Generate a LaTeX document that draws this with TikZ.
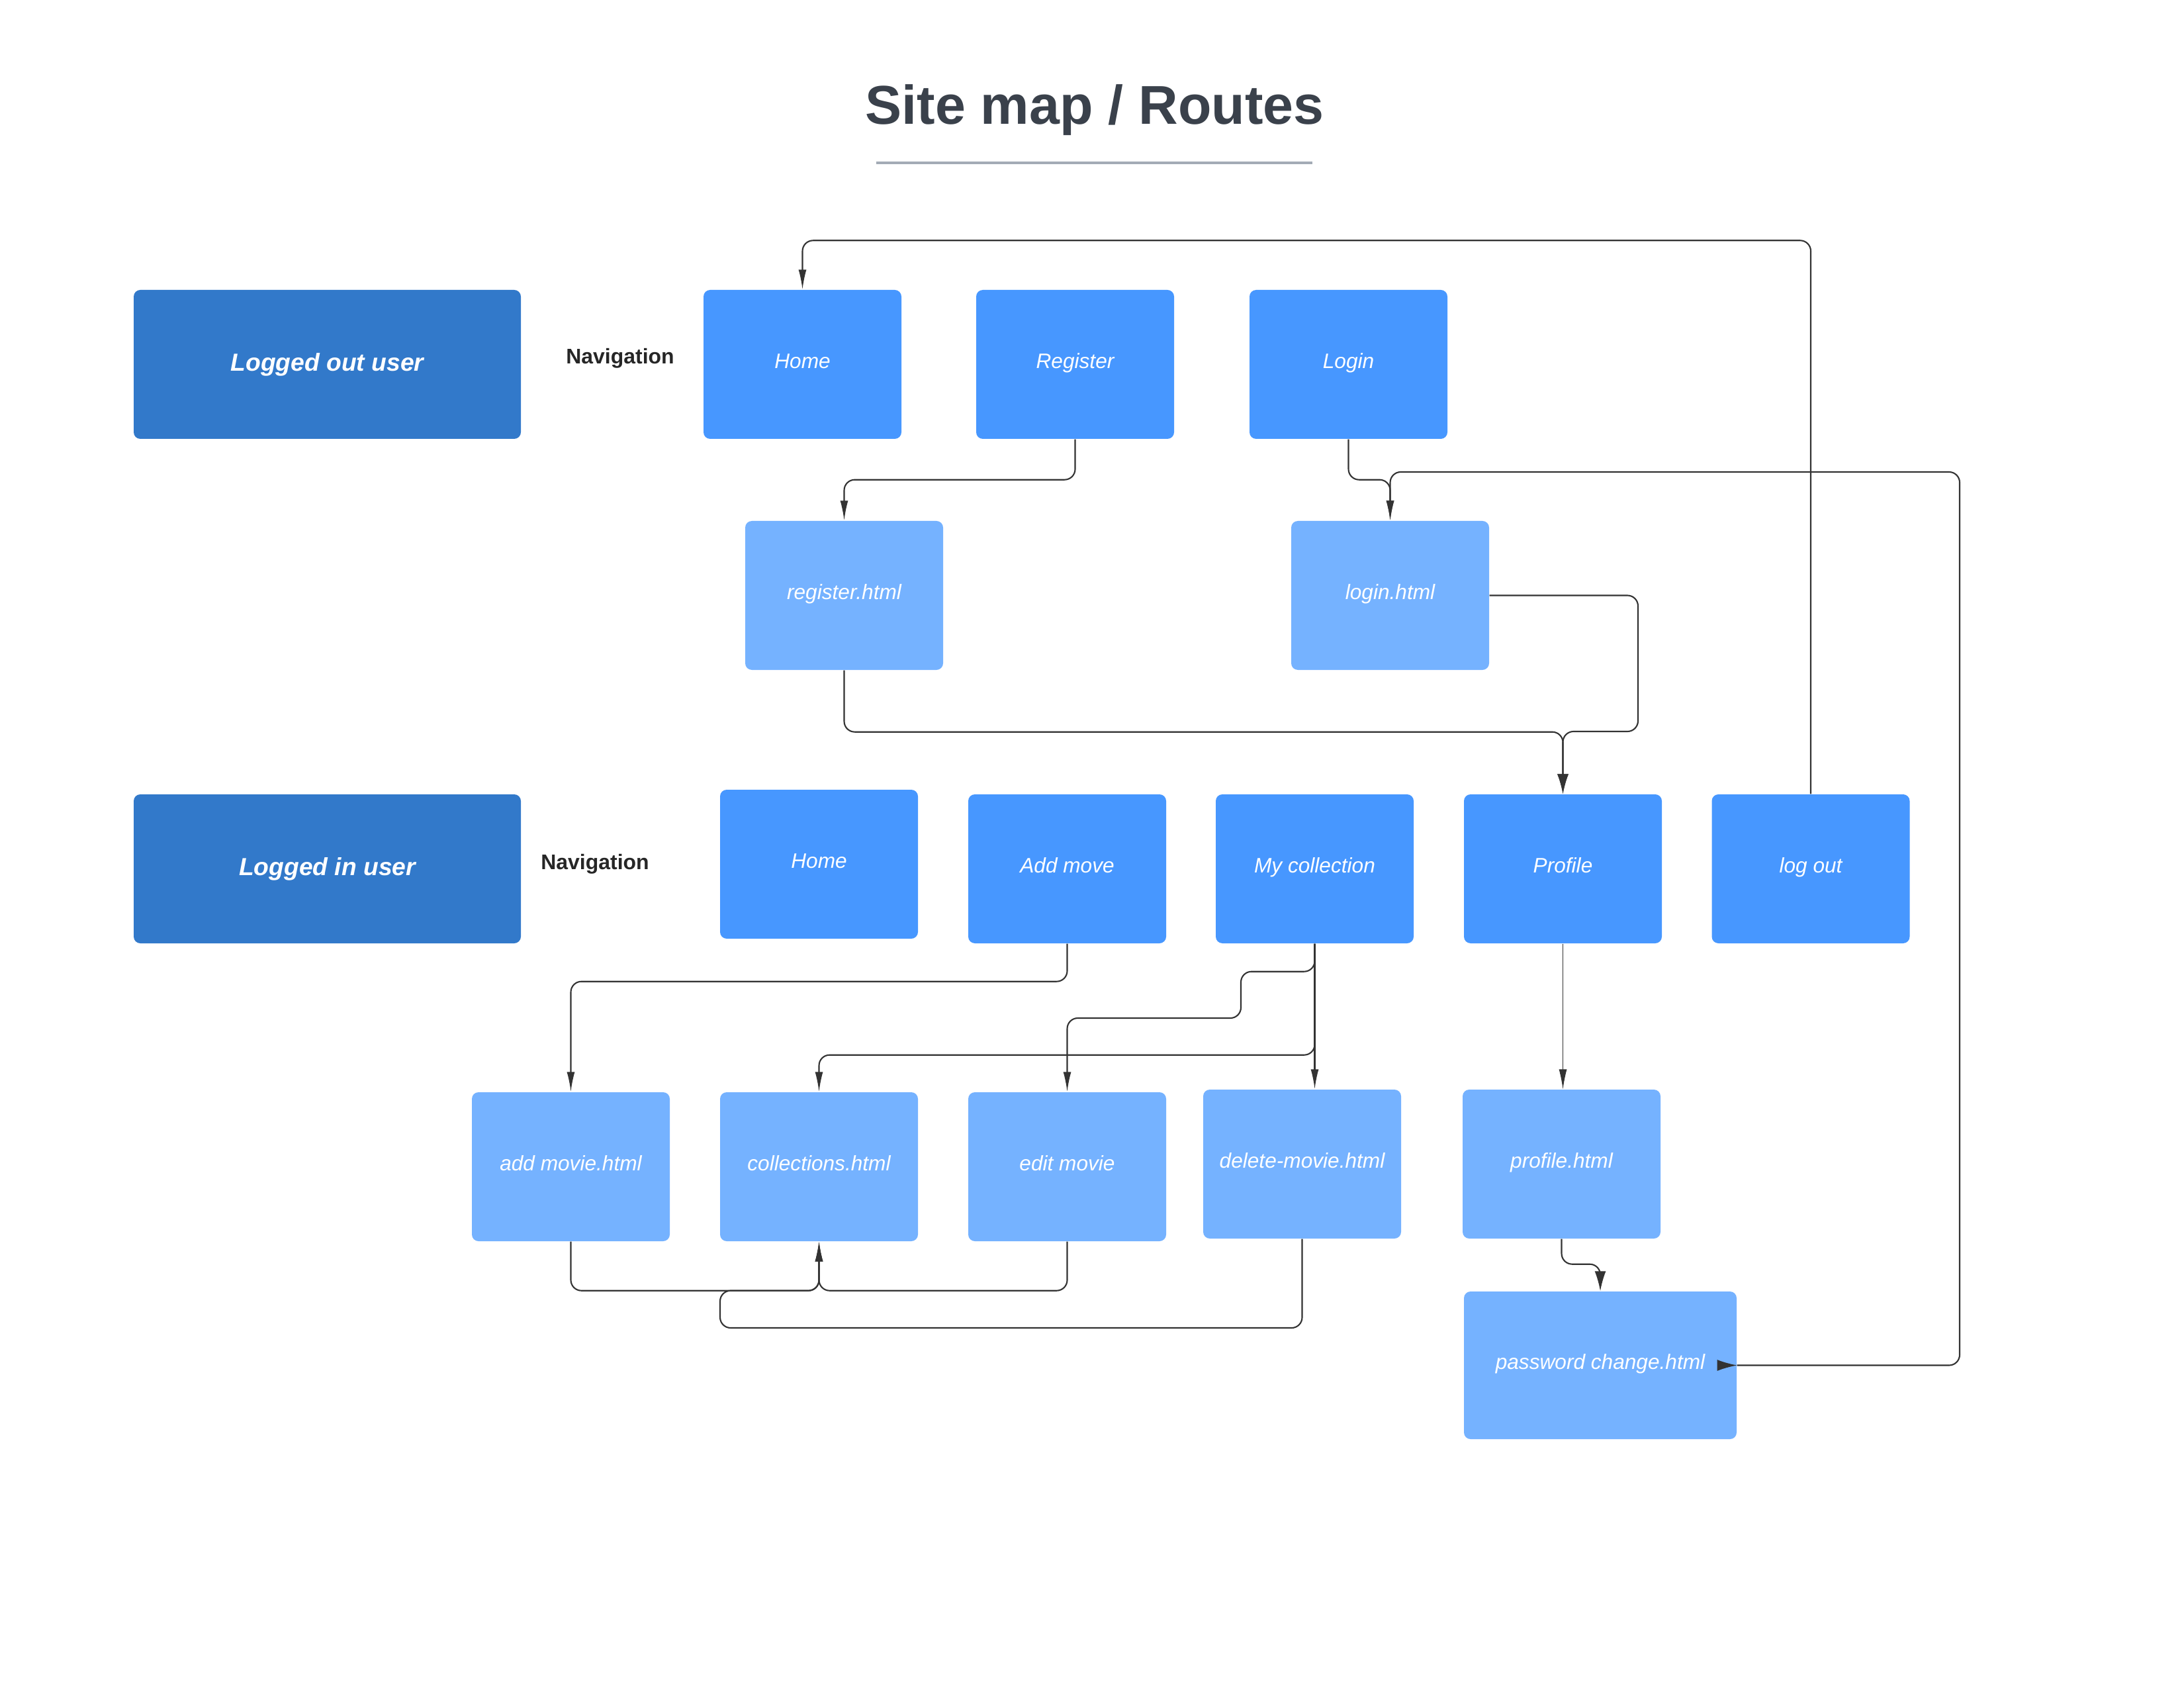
\documentclass[tikz,border=0pt]{standalone}
\usepackage{fontspec}
\setmainfont{Liberation Sans}
\usepackage{xcolor}
\usepackage{tikz}
\usetikzlibrary{arrows.meta}
\definecolor{routedark}{RGB}{50,121,202}
\definecolor{routemid}{RGB}{71,151,255}
\definecolor{routelight}{RGB}{117,178,255}
\definecolor{routetitle}{RGB}{58,65,75}
\definecolor{routerule}{RGB}{163,171,182}
\definecolor{routeline}{RGB}{51,51,51}

\tikzset{
  userbox/.style={fill=routedark, rounded corners=0.1cm, minimum width=5.85cm, minimum height=2.25cm, text=white, text height=0.75em, text depth=0.2em, font=\fontsize{10.6}{12}\selectfont\bfseries\itshape},
  navbox/.style={fill=routemid, rounded corners=0.1cm, minimum width=2.99cm, minimum height=2.25cm, text=white, text height=0.8em, text depth=0.47em, font=\fontsize{9}{11}\selectfont\itshape},
  pagebox/.style={navbox, fill=routelight},
  navlabel/.style={text=black!85, font=\fontsize{9.1}{11}\selectfont\bfseries},
  conn/.style={draw=routeline, line width=0.6pt, rounded corners=0.16cm, -{Latex[length=0.3cm,width=0.12cm]}},
  wideconn/.style={conn, -{Latex[length=0.3cm,width=0.17cm]}}
}

\begin{document}
\begin{tikzpicture}
\useasboundingbox (0,0) rectangle (33,-25.5);

% Title
\node[text=routetitle, font=\fontsize{23.5}{28}\selectfont\bfseries] (title) at (16.54,-1.66) {Site map / Routes};
\draw[routerule, line width=0.9pt] (13.24,-2.46) -- (19.83,-2.46);

% Logged out user
\node[userbox] (loggedout) at (4.945,-5.505) {Logged out user};
\node[navlabel] (navout) at (9.37,-5.41) {Navigation};
\node[navbox] (homeout) at (12.125,-5.505) {Home};
\node[navbox] (register) at (16.245,-5.505) {Register};
\node[navbox] (login) at (20.375,-5.505) {Login};
\node[pagebox] (registerhtml) at (12.755,-8.995) {register.html};
\node[pagebox] (loginhtml) at (21.005,-8.995) {login.html};

% Logged in user
\node[userbox] (loggedin) at (4.945,-13.125) {Logged in user};
\node[navlabel] (navin) at (8.99,-13.05) {Navigation};
\node[navbox] (homein) at (12.375,-13.055) {Home};
\node[navbox] (addmove) at (16.125,-13.125) {Add move};
\node[navbox] (mycollection) at (19.865,-13.125) {My collection};
\node[navbox] (profile) at (23.615,-13.125) {Profile};
\node[navbox] (logout) at (27.36,-13.125) {log out};

% Pages
\node[pagebox] (addmoviehtml) at (8.625,-17.625) {add movie.html};
\node[pagebox] (collectionshtml) at (12.375,-17.625) {collections.html};
\node[pagebox] (editmovie) at (16.125,-17.625) {edit movie};
\node[pagebox] (deletehtml) at (19.675,-17.585) {delete-movie.html};
\node[pagebox] (profilehtml) at (23.595,-17.585) {profile.html};
\node[pagebox, minimum width=4.12cm, minimum height=2.23cm] (passwordhtml) at (24.18,-20.625) {password change.html};

% Routes
\draw[conn] (logout.north) |- ([yshift=0.74cm]homeout.north) -- (homeout.north);
\draw[conn] (register.south) -- ++(0,-0.61) -| (registerhtml.north);
\draw[conn] (login.south) -- ++(0,-0.61) -| (loginhtml.north);
\draw[conn] (passwordhtml.east) -| (29.61,-7.13) -| (loginhtml.north);
\draw[wideconn, rounded corners=0] ([xshift=-0.22cm]passwordhtml.east) -- (passwordhtml.east);
\draw[wideconn] (registerhtml.south) -- ++(0,-0.93) -| (profile.north);
\draw[wideconn] (loginhtml.east) -| (24.75,-11.05) -| (profile.north);
\draw[conn] (addmove.south) -- ++(0,-0.57) -| (addmoviehtml.north);
\draw[conn] (mycollection.south) -- ++(0,-0.42) -| (18.75,-15.38) -| (editmovie.north);
\draw[conn] (mycollection.south) -- ++(0,-1.68) -| (collectionshtml.north);
\draw[conn] (mycollection.south) -- (mycollection.south |- deletehtml.north);
\draw[conn, line width=0.3pt] (profile.south) -- (profile.south |- profilehtml.north);
\draw[wideconn] (profilehtml.south) -- ++(0,-0.38) -| (passwordhtml.north);
\draw[conn] (addmoviehtml.south) -- ++(0,-0.74) -| (collectionshtml.south);
\draw[conn] (editmovie.south) -- ++(0,-0.74) -| (collectionshtml.south);
\draw[conn] (deletehtml.south) |- (10.88,-20.06) |- ([yshift=-0.74cm]collectionshtml.south) -- (collectionshtml.south);
\end{tikzpicture}
\end{document}
